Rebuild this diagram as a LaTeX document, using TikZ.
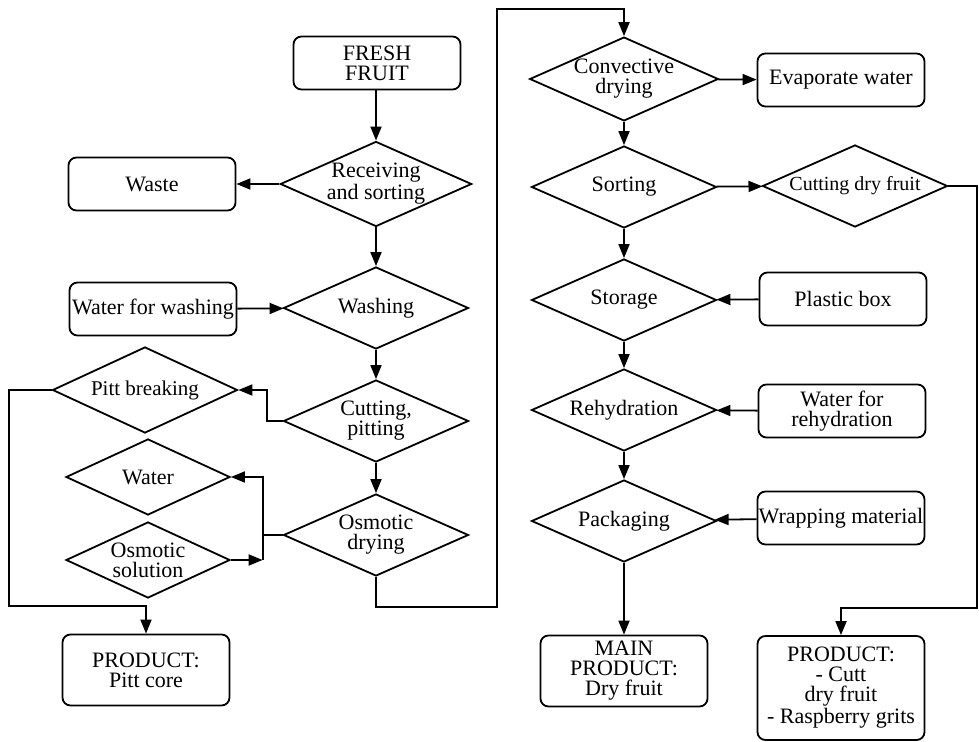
\documentclass[tikz,border=0pt]{standalone}
\usepackage{fontspec}
\setmainfont{Liberation Serif}
\usetikzlibrary{shapes.geometric,arrows.meta}
\begin{document}
\begin{tikzpicture}[x=0.5pt,y=-0.5pt,line width=0.9pt,>={Triangle[length=7pt,width=5.5pt]}]
        % Styles
        \tikzstyle{box}=[draw,rounded corners=4pt,align=center,inner sep=0pt,minimum width=83.5pt,minimum height=26.5pt,font=\fontsize{11}{10}\selectfont]
        \tikzstyle{step box}=[draw,diamond,aspect=2.25,align=center,inner sep=0pt,minimum width=92.5pt,minimum height=41pt,font=\fontsize{11}{10}\selectfont]
        \tikzstyle{small step}=[minimum width=82pt,minimum height=38pt]
        \useasboundingbox (0,0) rectangle (979,742);
        %left column
        \node[box] (fresh) at (377,63) {FRESH\\FRUIT};
        \node[step box] (recv) at (376,184) {Receiving\\and sorting};
        \node[box] (waste) at (152,184) {Waste};
        \node[step box] (wash) at (376,308) {Washing};
        \node[box] (wwash) at (153,309) {Water for washing};
        \node[step box] (cut) at (376,421) {Cutting,\\pitting};
        \node[step box] (osm) at (376,535) {Osmotic\\drying};
        \node[step box,minimum height=43pt,font=\fontsize{10.5}{10}\selectfont] (pitt) at (145,390) {Pitt breaking};
        \node[step box,small step] (water) at (148,477) {Water};
        \node[step box,small step] (osol) at (148,560) {Osmotic\\solution};
        \node[box,minimum height=35.5pt] (pcore) at (146,670) {PRODUCT:\\Pitt core};
        %right column
        \node[step box] (conv) at (624,79) {Convective\\drying};
        \node[box] (evap) at (841,80) {Evaporate water};
        \node[step box] (sort) at (624,187) {Sorting};
        \node[step box,font=\fontsize{10}{10}\selectfont] (cdry) at (855,186) {Cutting dry fruit};
        \node[step box] (stor) at (624,300) {Storage};
        \node[box] (plast) at (843,299) {Plastic box};
        \node[step box] (rehy) at (624,410) {Rehydration};
        \node[box] (wreh) at (842,411) {Water for\\rehydration};
        \node[step box] (pack) at (624,521) {Packaging};
        \node[box] (wrap) at (841,518) {Wrapping material};
        \node[box,minimum height=35.5pt] (main) at (624,671) {MAIN\\PRODUCT:\\Dry fruit};
        \node[box,minimum height=52pt] (pcut) at (841,688) {PRODUCT:\\- Cutt\\dry fruit\\- Raspberry grits};
        %connectors
        \draw[->] (fresh.south -| recv) -- (recv);
        \draw[->] (recv) -- (waste);
        \draw[->] (recv) -- (wash);
        \draw[->] (wwash) -- (wash);
        \draw[->] (wash) -- (cut);
        \draw[->] (cut) -- (osm);
        \draw[->] (cut.west) -- ++(-16,0) |- (pitt.east);
        \draw (osm.west) -- ++(-20,0) coordinate (oj);
        \draw[->] (oj) |- (water.east);
        \coordinate (osj) at (oj |- osol.east);
        \draw (oj) -- (osj);
        \draw[->] (osol.east) -- (osj);
        \coordinate (pl) at (9,606);
        \draw[->] (pitt.west) -| (pl) -| (pcore.north);
        \coordinate (ob) at (497,607);
        \coordinate (ot) at (497,9);
        \draw[->] (osm.south) |- (ob) -- (ot) -| (conv.north);
        \draw[->] (conv) -- (evap);
        \draw[->] (conv) -- (sort);
        \draw[->] (sort) -- (cdry);
        \draw[->] (sort) -- (stor);
        \draw[->] (plast) -- (stor);
        \draw[->] (stor) -- (rehy);
        \draw[->] (wreh) -- (rehy);
        \draw[->] (rehy) -- (pack);
        \draw[->] (wrap) -- (pack);
        \draw[->] (pack) -- (main);
        \coordinate (cr) at (977,608);
        \draw[->] (cdry.east) -| (cr) -| (pcut.north);
    \end{tikzpicture}
\end{document}
